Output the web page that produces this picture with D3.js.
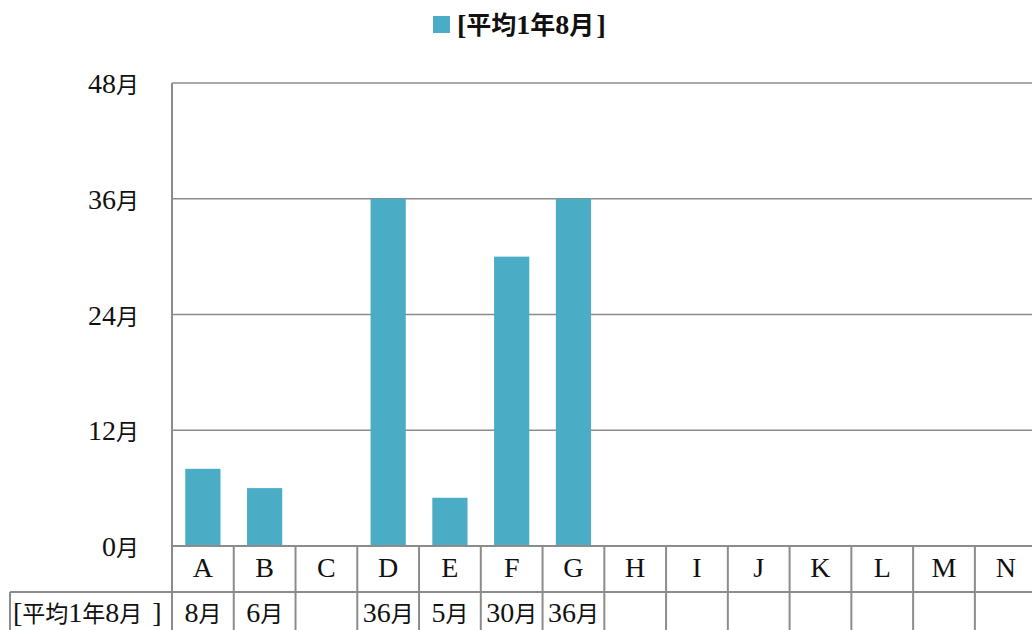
<!DOCTYPE html>
<html><head><meta charset="utf-8">
<script src="https://cdn.jsdelivr.net/npm/d3@7"></script>
<style>
html,body{margin:0;padding:0;background:#fff;overflow:hidden;}
text{font-family:"Liberation Serif","Noto Sans CJK JP",serif;fill:#111;}
tspan.cjk{font-family:"Noto Sans CJK JP",sans-serif;}
</style></head>
<body><svg id="c" width="1032" height="630"></svg>
<script>
const categories = ["A","B","C","D","E","F","G","H","I","J","K","L","M","N"];
const values = [8, 6, null, 36, 5, 30, 36, null, null, null, null, null, null, null];
const valueLabels = ["8月","6月","","36月","5月","30月","36月","","","","","","",""];
const seriesName = "[平均1年8月]";
const yTicks = [0, 12, 24, 36, 48];
const yTickLabels = ["0月","12月","24月","36月","48月"];

(function(){
const svg = d3.select("#c");
const W = 1032, H = 630;
const pLeft = 172, pTop = 83, pBottom = 546;
const step = 61.76;
const pRight = pLeft + step * categories.length;
const row1 = 46;
const color = "#4bacc6", lineC = "#8c8c8c";
const fs = 28, cfs = 23;

// write mixed text: latin runs at fs, CJK runs at cfsz
function mixed(sel, str, cfsz, bracketGap) {
  sel.text(null);
  const runs = str.match(/[\u3000-\u9fff]+|[^\u3000-\u9fff]+/g) || [];
  runs.forEach((r, k) => {
    const isC = /[\u3000-\u9fff]/.test(r);
    const t = sel.append("tspan").text(r).attr("font-size", isC ? cfsz : fs);
    if (isC) t.attr("class", "cjk");
    if (bracketGap && k === runs.length - 1 && r === "]") t.attr("dx", bracketGap);
  });
}

const x = d3.scaleBand().domain(categories).range([pLeft, pRight]).paddingInner(0.43).paddingOuter(0.215);
const xc = d3.scaleBand().domain(categories).range([pLeft, pRight]).padding(0);
const y = d3.scaleLinear().domain([0, 48]).range([pBottom, pTop]);

svg.append("g").selectAll("line").data(yTicks.filter(d => d > 0)).join("line")
  .attr("x1", pLeft).attr("x2", W + 10).attr("y1", d => y(d)).attr("y2", d => y(d))
  .attr("stroke", lineC).attr("stroke-width", 1.5);

svg.append("g").selectAll("text").data(yTicks).join("text")
  .attr("x", 139).attr("y", d => y(d) + 10)
  .attr("text-anchor", "end").attr("font-size", fs)
  .each(function(d, i){ mixed(d3.select(this), yTickLabels[i], cfs); });

svg.append("g").selectAll("rect").data(categories.map((c, i) => ({c, v: values[i]})).filter(d => d.v != null)).join("rect")
  .attr("x", d => x(d.c)).attr("width", x.bandwidth())
  .attr("y", d => y(d.v)).attr("height", d => y(0) - y(d.v))
  .attr("fill", color);

const g = svg.append("g").attr("stroke", lineC).attr("stroke-width", 2);
g.append("line").attr("x1", pLeft).attr("x2", pLeft).attr("y1", pTop).attr("y2", H + 5);
g.append("line").attr("x1", pLeft).attr("x2", W + 10).attr("y1", pBottom).attr("y2", pBottom);
g.append("line").attr("x1", 10).attr("x2", W + 10).attr("y1", pBottom + row1).attr("y2", pBottom + row1);
g.append("line").attr("x1", 10).attr("x2", 10).attr("y1", pBottom + row1).attr("y2", H + 5);
g.selectAll(".v").data(categories).join("line").attr("class", "v")
  .attr("x1", d => xc(d) + xc.bandwidth()).attr("x2", d => xc(d) + xc.bandwidth())
  .attr("y1", pBottom).attr("y2", H + 5);

svg.append("g").selectAll("text").data(categories).join("text")
  .attr("x", d => xc(d) + xc.bandwidth() / 2).attr("y", 577)
  .attr("text-anchor", "middle").attr("font-size", fs).text(d => d);

svg.append("g").selectAll("text").data(categories).join("text")
  .attr("x", d => xc(d) + xc.bandwidth() / 2).attr("y", 622)
  .attr("text-anchor", "middle").attr("font-size", fs)
  .each(function(d, i){ mixed(d3.select(this), valueLabels[i], cfs); });

mixed(svg.append("text").attr("x", 13).attr("y", 622).attr("font-size", fs), seriesName, cfs, 10);

svg.append("rect").attr("x", 433).attr("y", 16).attr("width", 17).attr("height", 17).attr("fill", color);
mixed(svg.append("text").attr("x", 457).attr("y", 34).attr("font-size", fs).attr("font-weight", "bold"), seriesName, 25, 2);
})();
</script></body></html>
